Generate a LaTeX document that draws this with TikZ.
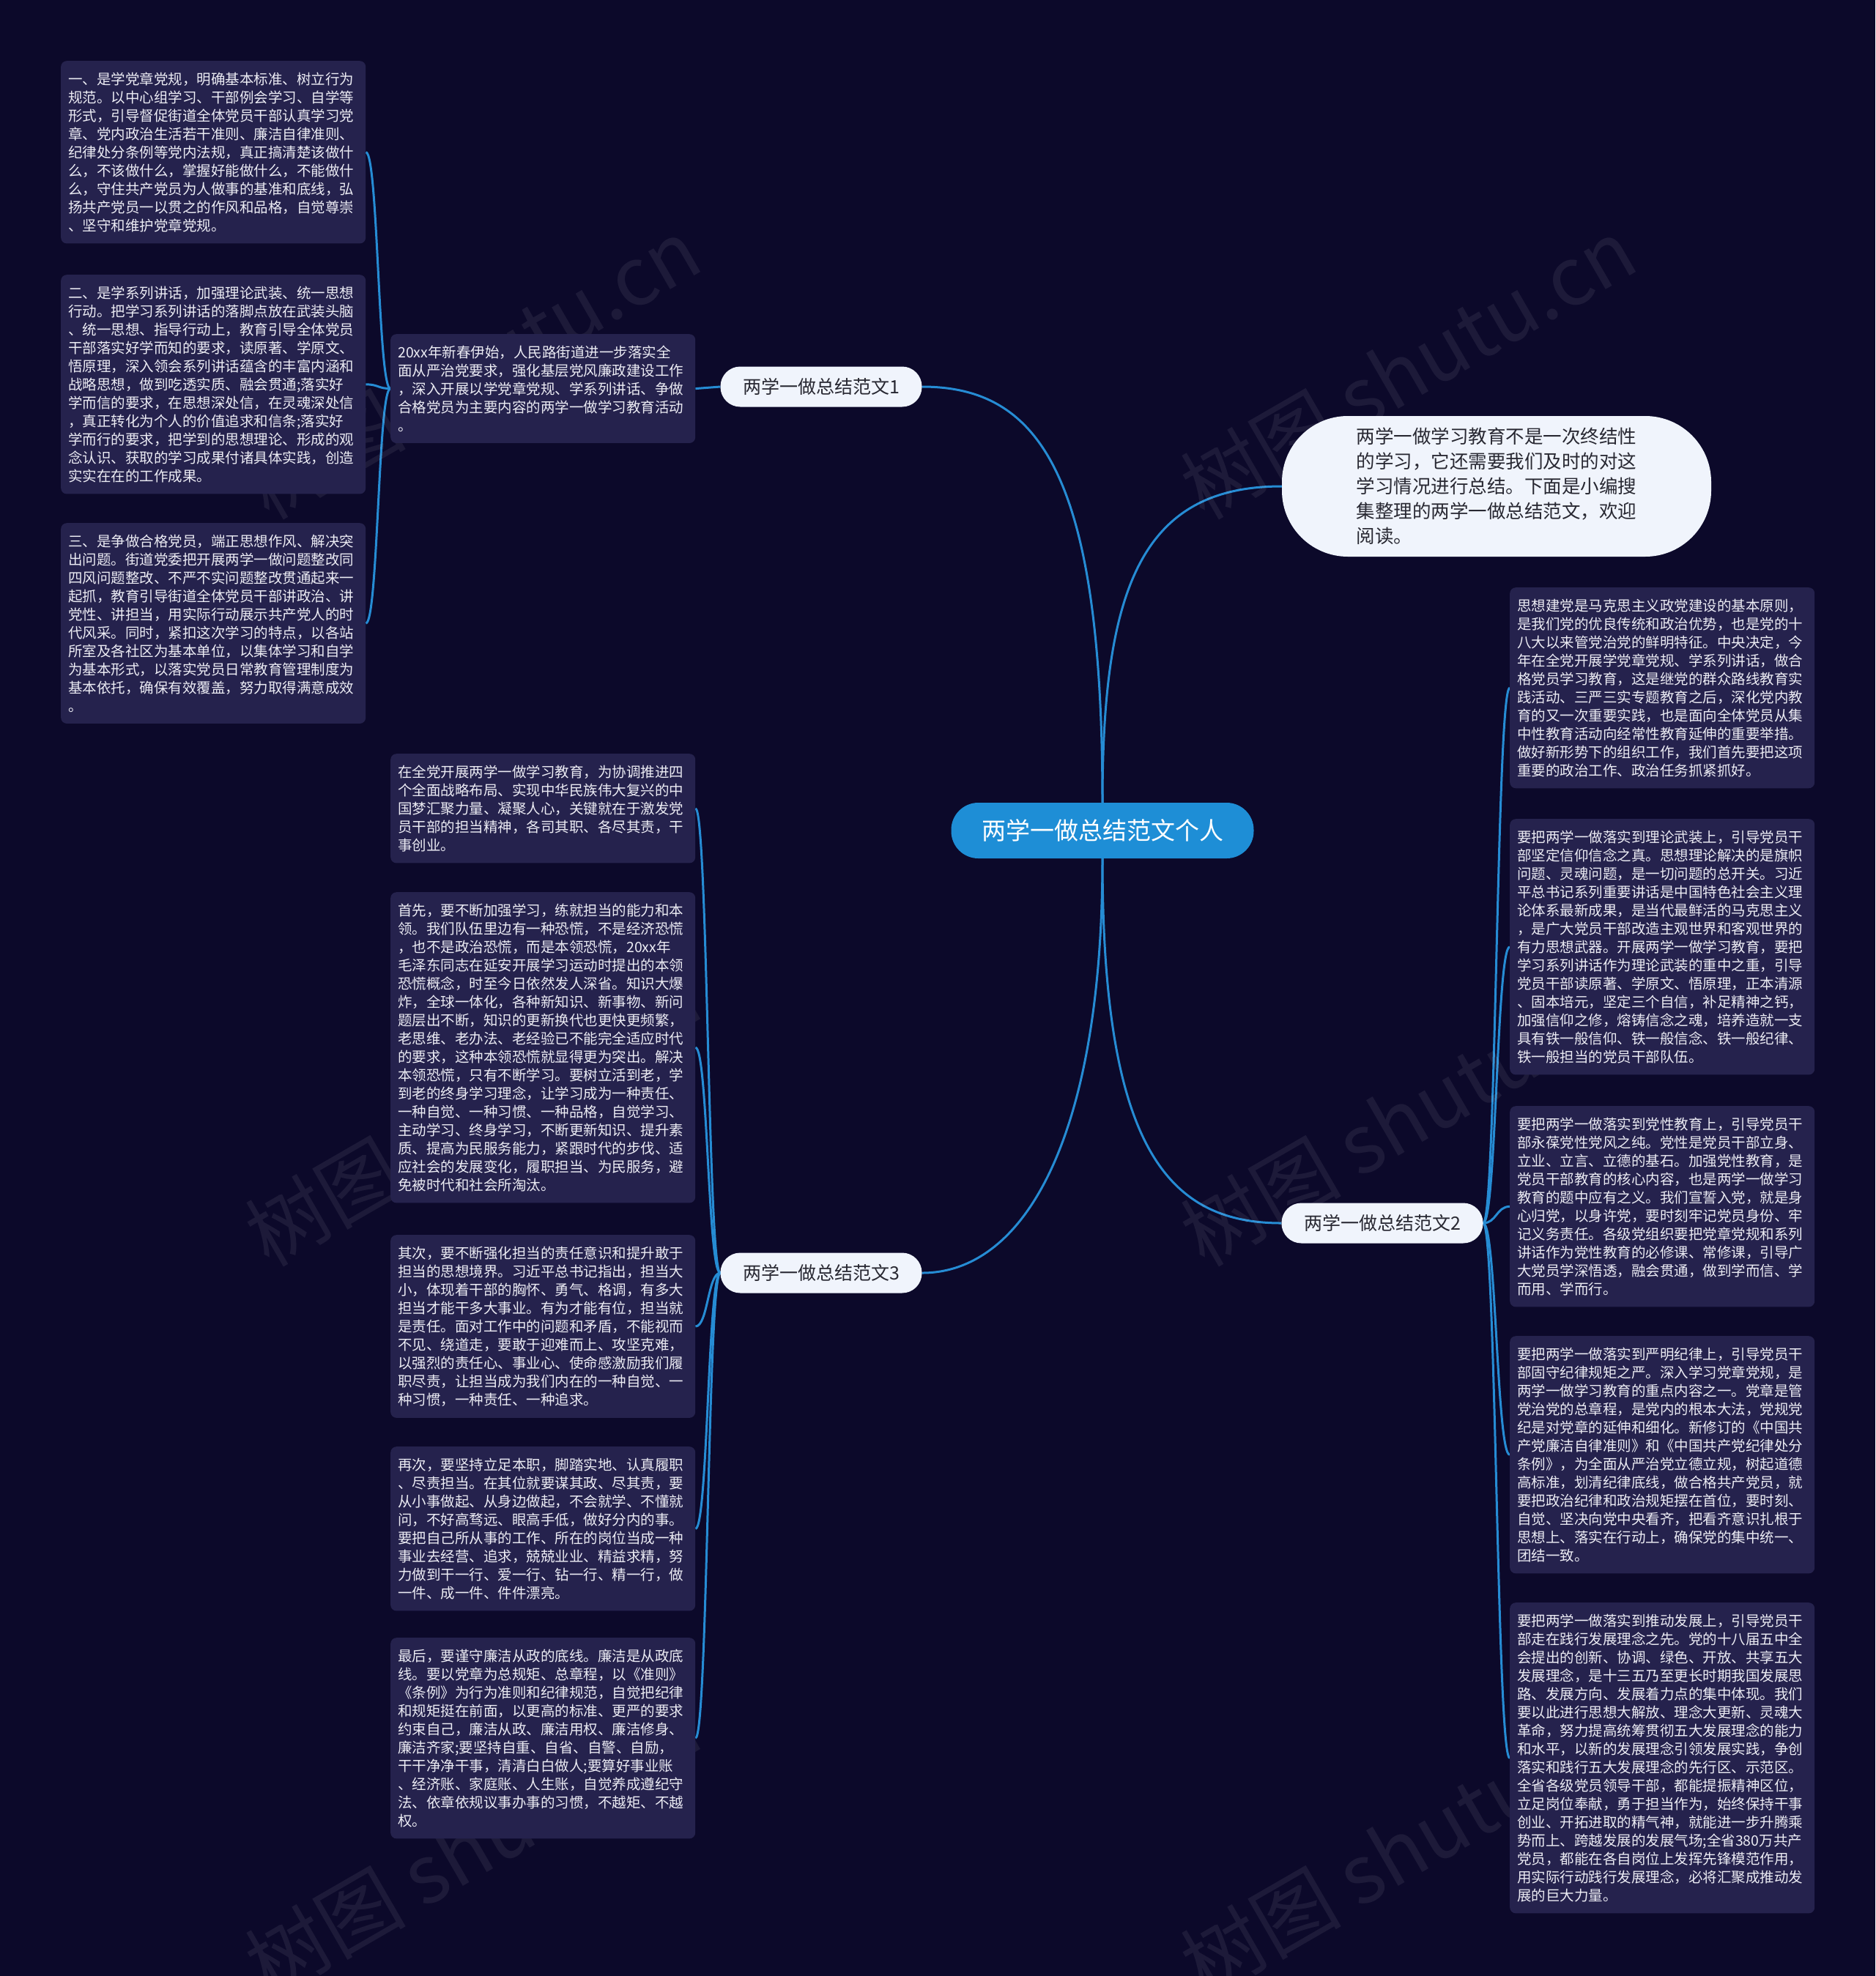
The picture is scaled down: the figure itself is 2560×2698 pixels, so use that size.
\documentclass[tikz,border=0pt]{standalone}
\usepackage{fontspec}
\setmainfont{Noto Sans CJK SC}
\usetikzlibrary{backgrounds}
\definecolor{bgc}{RGB}{12,9,42}
\definecolor{boxc}{RGB}{37,34,77}
\definecolor{linec}{RGB}{38,140,212}
\definecolor{centc}{RGB}{30,142,214}
\definecolor{pillc}{RGB}{240,244,252}
\definecolor{txtc}{RGB}{236,236,244}
\definecolor{darkc}{RGB}{40,40,50}
\tikzset{
 tbox/.style={fill=boxc, rounded corners=8pt, text width=396pt, inner xsep=10pt, inner ysep=15.5pt, align=left, anchor=north west, text=txtc, font=\fontsize{19.5}{25}\selectfont},
 pill/.style={fill=pillc, rounded corners=27pt, minimum width=275pt, minimum height=55pt, text=darkc, font=\fontsize{25}{30}\selectfont, inner sep=0pt},
 central/.style={fill=centc, rounded corners=37pt, minimum width=413pt, minimum height=76pt, text=white, font=\fontsize{33}{40}\selectfont, inner sep=0pt},
 bubble/.style={fill=pillc, rounded corners=90pt, minimum width=586pt, minimum height=192pt, text=darkc, align=left, font=\fontsize{25.5}{34}\selectfont, inner sep=0pt},
 link/.style={draw=linec, line width=3pt},
 wmark/.style={text=white, text opacity=0.07, rotate=30, font=\fontsize{110}{120}\selectfont}
}
\begin{document}
\begin{tikzpicture}[x=1pt,y=-1pt]
\useasboundingbox (0,0) rectangle (2560,2698);

% watermarks
\node[wmark] (w1) at (645,503) {树图 shutu.cn};
\node[wmark] (w2) at (1922,503) {树图 shutu.cn};
\node[wmark] (w3) at (645,1523) {树图 shutu.cn};
\node[wmark] (w4) at (1922,1523) {树图 shutu.cn};
\node[wmark] (w5) at (645,2520) {树图 shutu.cn};
\node[wmark] (w6) at (1922,2520) {树图 shutu.cn};

% main nodes
\node[central] (c) at (1505,1134) {两学一做总结范文个人};
\node[pill] (b1) at (1121,528) {两学一做总结范文1};
\node[pill] (b2) at (1887,1670) {两学一做总结范文2};
\node[pill] (b3) at (1121,1738) {两学一做总结范文3};
\node[bubble] (intro) at (2043,664) {两学一做学习教育不是一次终结性\\%
的学习，它还需要我们及时的对这\\%
学习情况进行总结。下面是小编搜\\%
集整理的两学一做总结范文，欢迎\\%
阅读。};

% branch 1
\node[tbox] (a0) at (533,456) {20xx年新春伊始，人民路街道进一步落实全\\%
面从严治党要求，强化基层党风廉政建设工作\\%
，深入开展以学党章党规、学系列讲话、争做\\%
合格党员为主要内容的两学一做学习教育活动\\%
。};
\node[tbox] (a1) at (83,83) {一、是学党章党规，明确基本标准、树立行为\\%
规范。以中心组学习、干部例会学习、自学等\\%
形式，引导督促街道全体党员干部认真学习党\\%
章、党内政治生活若干准则、廉洁自律准则、\\%
纪律处分条例等党内法规，真正搞清楚该做什\\%
么，不该做什么，掌握好能做什么，不能做什\\%
么，守住共产党员为人做事的基准和底线，弘\\%
扬共产党员一以贯之的作风和品格，自觉尊崇\\%
、坚守和维护党章党规。};
\node[tbox] (a2) at (83,375) {二、是学系列讲话，加强理论武装、统一思想\\%
行动。把学习系列讲话的落脚点放在武装头脑\\%
、统一思想、指导行动上，教育引导全体党员\\%
干部落实好学而知的要求，读原著、学原文、\\%
悟原理，深入领会系列讲话蕴含的丰富内涵和\\%
战略思想，做到吃透实质、融会贯通;落实好\\%
学而信的要求，在思想深处信，在灵魂深处信\\%
，真正转化为个人的价值追求和信条;落实好\\%
学而行的要求，把学到的思想理论、形成的观\\%
念认识、获取的学习成果付诸具体实践，创造\\%
实实在在的工作成果。};
\node[tbox] (a3) at (83,714) {三、是争做合格党员，端正思想作风、解决突\\%
出问题。街道党委把开展两学一做问题整改同\\%
四风问题整改、不严不实问题整改贯通起来一\\%
起抓，教育引导街道全体党员干部讲政治、讲\\%
党性、讲担当，用实际行动展示共产党人的时\\%
代风采。同时，紧扣这次学习的特点，以各站\\%
所室及各社区为基本单位，以集体学习和自学\\%
为基本形式，以落实党员日常教育管理制度为\\%
基本依托，确保有效覆盖，努力取得满意成效\\%
。};

% branch 3
\node[tbox] (c1) at (533,1029) {在全党开展两学一做学习教育，为协调推进四\\%
个全面战略布局、实现中华民族伟大复兴的中\\%
国梦汇聚力量、凝聚人心，关键就在于激发党\\%
员干部的担当精神，各司其职、各尽其责，干\\%
事创业。};
\node[tbox] (c2) at (533,1218) {首先，要不断加强学习，练就担当的能力和本\\%
领。我们队伍里边有一种恐慌，不是经济恐慌\\%
，也不是政治恐慌，而是本领恐慌，20xx年\\%
毛泽东同志在延安开展学习运动时提出的本领\\%
恐慌概念，时至今日依然发人深省。知识大爆\\%
炸，全球一体化，各种新知识、新事物、新问\\%
题层出不断，知识的更新换代也更快更频繁，\\%
老思维、老办法、老经验已不能完全适应时代\\%
的要求，这种本领恐慌就显得更为突出。解决\\%
本领恐慌，只有不断学习。要树立活到老，学\\%
到老的终身学习理念，让学习成为一种责任、\\%
一种自觉、一种习惯、一种品格，自觉学习、\\%
主动学习、终身学习，不断更新知识、提升素\\%
质、提高为民服务能力，紧跟时代的步伐、适\\%
应社会的发展变化，履职担当、为民服务，避\\%
免被时代和社会所淘汰。};
\node[tbox] (c3) at (533,1686) {其次，要不断强化担当的责任意识和提升敢于\\%
担当的思想境界。习近平总书记指出，担当大\\%
小，体现着干部的胸怀、勇气、格调，有多大\\%
担当才能干多大事业。有为才能有位，担当就\\%
是责任。面对工作中的问题和矛盾，不能视而\\%
不见、绕道走，要敢于迎难而上、攻坚克难，\\%
以强烈的责任心、事业心、使命感激励我们履\\%
职尽责，让担当成为我们内在的一种自觉、一\\%
种习惯，一种责任、一种追求。};
\node[tbox] (c4) at (533,1975) {再次，要坚持立足本职，脚踏实地、认真履职\\%
、尽责担当。在其位就要谋其政、尽其责，要\\%
从小事做起、从身边做起，不会就学、不懂就\\%
问，不好高骛远、眼高手低，做好分内的事。\\%
要把自己所从事的工作、所在的岗位当成一种\\%
事业去经营、追求，兢兢业业、精益求精，努\\%
力做到干一行、爱一行、钻一行、精一行，做\\%
一件、成一件、件件漂亮。};
\node[tbox] (c5) at (533,2236) {最后，要谨守廉洁从政的底线。廉洁是从政底\\%
线。要以党章为总规矩、总章程，以《准则》\\%
《条例》为行为准则和纪律规范，自觉把纪律\\%
和规矩挺在前面，以更高的标准、更严的要求\\%
约束自己，廉洁从政、廉洁用权、廉洁修身、\\%
廉洁齐家;要坚持自重、自省、自警、自励，\\%
干干净净干事，清清白白做人;要算好事业账\\%
、经济账、家庭账、人生账，自觉养成遵纪守\\%
法、依章依规议事办事的习惯，不越矩、不越\\%
权。};

% branch 2
\node[tbox] (r1) at (2061,802) {思想建党是马克思主义政党建设的基本原则，\\%
是我们党的优良传统和政治优势，也是党的十\\%
八大以来管党治党的鲜明特征。中央决定，今\\%
年在全党开展学党章党规、学系列讲话，做合\\%
格党员学习教育，这是继党的群众路线教育实\\%
践活动、三严三实专题教育之后，深化党内教\\%
育的又一次重要实践，也是面向全体党员从集\\%
中性教育活动向经常性教育延伸的重要举措。\\%
做好新形势下的组织工作，我们首先要把这项\\%
重要的政治工作、政治任务抓紧抓好。};
\node[tbox] (r2) at (2061,1118) {要把两学一做落实到理论武装上，引导党员干\\%
部坚定信仰信念之真。思想理论解决的是旗帜\\%
问题、灵魂问题，是一切问题的总开关。习近\\%
平总书记系列重要讲话是中国特色社会主义理\\%
论体系最新成果，是当代最鲜活的马克思主义\\%
，是广大党员干部改造主观世界和客观世界的\\%
有力思想武器。开展两学一做学习教育，要把\\%
学习系列讲话作为理论武装的重中之重，引导\\%
党员干部读原著、学原文、悟原理，正本清源\\%
、固本培元，坚定三个自信，补足精神之钙，\\%
加强信仰之修，熔铸信念之魂，培养造就一支\\%
具有铁一般信仰、铁一般信念、铁一般纪律、\\%
铁一般担当的党员干部队伍。};
\node[tbox] (r3) at (2061,1510) {要把两学一做落实到党性教育上，引导党员干\\%
部永葆党性党风之纯。党性是党员干部立身、\\%
立业、立言、立德的基石。加强党性教育，是\\%
党员干部教育的核心内容，也是两学一做学习\\%
教育的题中应有之义。我们宣誓入党，就是身\\%
心归党，以身许党，要时刻牢记党员身份、牢\\%
记义务责任。各级党组织要把党章党规和系列\\%
讲话作为党性教育的必修课、常修课，引导广\\%
大党员学深悟透，融会贯通，做到学而信、学\\%
而用、学而行。};
\node[tbox] (r4) at (2061,1824) {要把两学一做落实到严明纪律上，引导党员干\\%
部固守纪律规矩之严。深入学习党章党规，是\\%
两学一做学习教育的重点内容之一。党章是管\\%
党治党的总章程，是党内的根本大法，党规党\\%
纪是对党章的延伸和细化。新修订的《中国共\\%
产党廉洁自律准则》和《中国共产党纪律处分\\%
条例》，为全面从严治党立德立规，树起道德\\%
高标准，划清纪律底线，做合格共产党员，就\\%
要把政治纪律和政治规矩摆在首位，要时刻、\\%
自觉、坚决向党中央看齐，把看齐意识扎根于\\%
思想上、落实在行动上，确保党的集中统一、\\%
团结一致。};
\node[tbox] (r5) at (2061,2188) {要把两学一做落实到推动发展上，引导党员干\\%
部走在践行发展理念之先。党的十八届五中全\\%
会提出的创新、协调、绿色、开放、共享五大\\%
发展理念，是十三五乃至更长时期我国发展思\\%
路、发展方向、发展着力点的集中体现。我们\\%
要以此进行思想大解放、理念大更新、灵魂大\\%
革命，努力提高统筹贯彻五大发展理念的能力\\%
和水平，以新的发展理念引领发展实践，争创\\%
落实和践行五大发展理念的先行区、示范区。\\%
全省各级党员领导干部，都能提振精神区位，\\%
立足岗位奉献，勇于担当作为，始终保持干事\\%
创业、开拓进取的精气神，就能进一步升腾乘\\%
势而上、跨越发展的发展气场;全省380万共产\\%
党员，都能在各自岗位上发挥先锋模范作用，\\%
用实际行动践行发展理念，必将汇聚成推动发\\%
展的巨大力量。};

% background and connectors
\begin{scope}[on background layer]
\fill[bgc] (0,0) rectangle (2560,2698);
\draw[link] (c.north) .. controls (1505,650) and (1420,528) .. (b1.east);
\draw[link] (c.north) .. controls (1505,800) and (1560,664) .. (intro.west);
\draw[link] (c.south) .. controls (1505,1550) and (1400,1738) .. (b3.east);
\draw[link] (c.south) .. controls (1505,1560) and (1590,1670) .. (b2.west);
\draw[link] (b1.west) -- (a0.east);
\foreach \t in {a1,a2,a3}{
  \draw[link] (a0.west) .. controls ([xshift=-17pt]a0.west) and ([xshift=17pt]\t.east) .. (\t.east);
}
\foreach \t in {c1,c2,c3,c4,c5}{
  \draw[link] (b3.west) .. controls ([xshift=-17pt]b3.west) and ([xshift=17pt]\t.east) .. (\t.east);
}
\foreach \t in {r1,r2,r3,r4,r5}{
  \draw[link] (b2.east) .. controls ([xshift=18pt]b2.east) and ([xshift=-18pt]\t.west) .. (\t.west);
}
\end{scope}
\end{tikzpicture}
\end{document}
